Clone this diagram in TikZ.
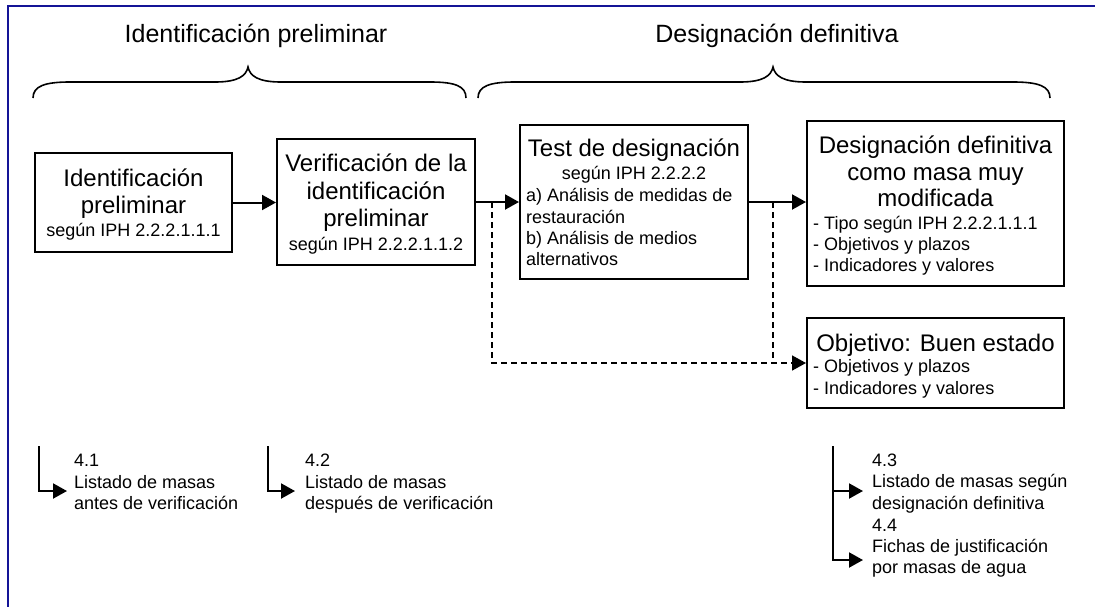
\documentclass[tikz,border=0pt]{standalone}
\usepackage{fontspec}
\setmainfont{Liberation Sans}
\usetikzlibrary{arrows.meta}
\definecolor{framecol}{RGB}{20,20,150}
\tikzset{
  box/.style={draw=black, line width=2pt, fill=white, inner sep=0pt},
  tbig/.style={font=\fontsize{24}{28}\selectfont, inner sep=0pt},
  tsmall/.style={font=\fontsize{18}{21}\selectfont, inner sep=0pt},
  ttitle/.style={font=\fontsize{25}{30}\selectfont, inner sep=0pt},
  arr/.style={line width=2pt, -{Triangle[length=14pt,width=15pt]}},
  dashconn/.style={line width=1.6pt, dash pattern=on 6pt off 4pt, -{Triangle[length=14pt,width=15pt]}},
  bracestyle/.style={line width=1.6pt},
  framestyle/.style={draw=framecol, line width=2pt}
}
\begin{document}
\begin{tikzpicture}[x=1pt,y=-1pt]
\useasboundingbox (0,0) rectangle (1095,606);
% frame
\draw[framestyle] (7.7,607) -- (7.7,6) -- (1096,6);
% titles
\node[ttitle, anchor=base] (title1) at (256,42.5) {Identificación preliminar};
\node[ttitle, anchor=base] (title2) at (777,42.5) {Designación definitiva};
% braces
\draw[bracestyle] (33,98) .. controls (33,86) and (45,82) .. (70,82) -- (215,82)
  .. controls (238,82) and (246,76) .. (248,67) .. controls (250,76) and (258,82) .. (281,82)
  -- (430,82) .. controls (455,82) and (466,86) .. (466,98);
\draw[bracestyle] (478,98) .. controls (478,86) and (490,82) .. (515,82) -- (740,82)
  .. controls (763,82) and (771,76) .. (773,67) .. controls (775,76) and (783,82) .. (806,82)
  -- (1013,82) .. controls (1038,82) and (1050,86) .. (1050,98);
% boxes
\node[box, minimum width=197pt, minimum height=99pt] (b1) at (133.5,202.5) {};
\node[box, minimum width=198pt, minimum height=126pt] (b2) at (376,202) {};
\node[box, minimum width=228pt, minimum height=154pt] (b3) at (634,202) {};
\node[box, minimum width=257pt, minimum height=165pt] (b4) at (935.5,203.5) {};
\node[box, minimum width=257pt, minimum height=90pt] (b5) at (935.5,363) {};
% box 1 text
\node[tbig, anchor=base] (b1l1) at (133.5,186) {Identificación};
\node[tbig, anchor=base] (b1l2) at (133.5,213.5) {preliminar};
\node[tsmall, anchor=base] (b1l3) at (133.5,236) {según IPH 2.2.2.1.1.1};
% box 2 text
\node[tbig, anchor=base] (b2l1) at (376,171.5) {Verificación de la};
\node[tbig, anchor=base] (b2l2) at (376,199) {identificación};
\node[tbig, anchor=base] (b2l3) at (376,226.5) {preliminar};
\node[tsmall, anchor=base] (b2l4) at (376,250.5) {según IPH 2.2.2.1.1.2};
% box 3 text
\node[tbig, anchor=base] (b3l1) at (634,156.5) {Test de designación};
\node[tsmall, anchor=base] (b3l2) at (634,179.5) {según IPH 2.2.2.2};
\node[tsmall, anchor=base west] (b3l3) at (526,201.5) {a) Análisis de medidas de};
\node[tsmall, anchor=base west] (b3l4) at (526,223) {restauración};
\node[tsmall, anchor=base west] (b3l5) at (526,244.3) {b) Análisis de medios};
\node[tsmall, anchor=base west] (b3l6) at (526,265.5) {alternativos};
% box 4 text
\node[tbig, anchor=base] (b4l1) at (935.5,153.3) {Designación definitiva};
\node[tbig, anchor=base] (b4l2) at (935.5,180) {como masa muy};
\node[tbig, anchor=base] (b4l3) at (935.5,206.7) {modificada};
\node[tsmall, anchor=base west] (b4l4) at (813,229.3) {- Tipo según IPH 2.2.2.1.1.1};
\node[tsmall, anchor=base west] (b4l5) at (813,250.7) {- Objetivos y plazos};
\node[tsmall, anchor=base west] (b4l6) at (813,271.7) {- Indicadores y valores};
% box 5 text
\node[tbig, anchor=base] (b5l1) at (935.5,351.7) {Objetivo: Buen estado};
\node[tsmall, anchor=base west] (b5l2) at (813,372.7) {- Objetivos y plazos};
\node[tsmall, anchor=base west] (b5l3) at (813,394) {- Indicadores y valores};
% connectors
\draw[arr] (b1.east) -- (b1.east -| b2.west);
\draw[arr] (b2.east) -- (b2.east -| b3.west);
\draw[arr] (b3.east) -- (b3.east -| b4.west);
\coordinate (j1) at (492,202);
\coordinate (j2) at (773,202);
\draw[dashconn] (j1) |- (b5.west);
\draw[dashconn, -] (j2) -- (j2 |- b5.west);
% bottom outputs
\coordinate (s41) at (39,446);
\coordinate (e41) at (67,491);
\draw[arr] (s41) |- (e41);
\node[tsmall, anchor=base west] (o41a) at (74,466) {4.1};
\node[tsmall, anchor=base west] (o41b) at (74,488.3) {Listado de masas};
\node[tsmall, anchor=base west] (o41c) at (74,509.3) {antes de verificación};
\coordinate (s42) at (268,446);
\coordinate (e42) at (295,491);
\draw[arr] (s42) |- (e42);
\node[tsmall, anchor=base west] (o42a) at (305,466) {4.2};
\node[tsmall, anchor=base west] (o42b) at (305,488.3) {Listado de masas};
\node[tsmall, anchor=base west] (o42c) at (305,509.3) {después de verificación};
\coordinate (s43) at (833,446);
\coordinate (e43) at (863,491);
\coordinate (e44) at (863,560);
\draw[arr] (s43) |- (e44);
\draw[arr] (s43 |- e43) -- (e43);
\node[tsmall, anchor=base west] (o43a) at (872,466) {4.3};
\node[tsmall, anchor=base west] (o43b) at (872,487.7) {Listado de masas según};
\node[tsmall, anchor=base west] (o43c) at (872,509.3) {designación definitiva};
\node[tsmall, anchor=base west] (o44a) at (872,531) {4.4};
\node[tsmall, anchor=base west] (o44b) at (872,552.7) {Fichas de justificación};
\node[tsmall, anchor=base west] (o44c) at (872,573.3) {por masas de agua};
\end{tikzpicture}
\end{document}
